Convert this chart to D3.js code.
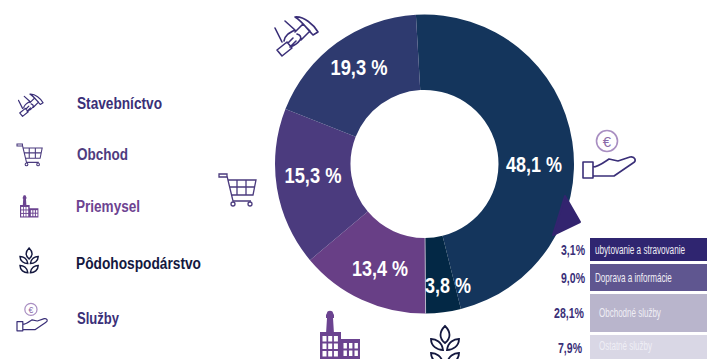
<!DOCTYPE html>
<html>
<head>
<meta charset="utf-8">
<script src="https://d3js.org/d3.v7.min.js"></script>
<style>
html, body { margin: 0; padding: 0; background: #fff; overflow: hidden; }
text { font-family: "Liberation Sans", sans-serif; }
</style>
</head>
<body>
<div id="chart"></div>
<script>
// data
const sectors = ["Služby", "Pôdohospodárstvo", "Priemysel", "Obchod", "Stavebníctvo"];
const sectorLabels = ["48,1 %", "3,8 %", "13,4 %", "15,3 %", "19,3 %"];
// the drawn slices are not quite what the labels say, so these are measured off the ring
const sliceShares = [47.0, 3.8, 14.0, 17.1, 18.1];
const sectorColors = ["#14355c", "#032845", "#683f86", "#4b3b7e", "#2e3a6f"];

const legendNames = ["Stavebníctvo", "Obchod", "Priemysel", "Pôdohospodárstvo", "Služby"];
const legendColors = ["#3a2f78", "#4f3c80", "#6d4391", "#14183f", "#3a2f78"];

const serviceNames = ["ubytovanie a stravovanie", "Doprava a informácie", "Obchodné služby", "Ostatné služby"];
const serviceLabels = ["3,1%", "9,0%", "28,1%", "7,9%"];
const serviceValues = [3.1, 9.0, 28.1, 7.9];
const serviceColors = ["#2f2570", "#5f5690", "#b9b5cc", "#d9d7e5"];

const svgWidth = 707, svgHeight = 359;
const cx = 424.5, cy = 164, outerR = 149.5, innerR = 74;

const svg = d3.select("#chart").append("svg")
    .attr("width", svgWidth)
    .attr("height", svgHeight)
    .style("display", "block");

// ring
const pie = d3.pie().sort(null)
    .startAngle(-3.3 * Math.PI / 180)
    .endAngle((360 - 3.3) * Math.PI / 180);
const arc = d3.arc().innerRadius(innerR).outerRadius(outerR);
const arcs = pie(sliceShares);

const ring = svg.append("g").attr("transform", `translate(${cx},${cy})`);
ring.selectAll("path")
    .data(arcs)
    .enter().append("path")
    .attr("d", arc)
    .attr("fill", (d, i) => sectorColors[i]);

// thin light line between Priemysel and Pôdohospodárstvo
const seam = d3.pointRadial(arcs[2].startAngle, innerR);
const seamEnd = d3.pointRadial(arcs[2].startAngle, outerR);
ring.append("line")
    .attr("x1", seam[0]).attr("y1", seam[1])
    .attr("x2", seamEnd[0]).attr("y2", seamEnd[1])
    .attr("stroke", "#c9c6d6").attr("stroke-width", 0.8);

// no condensed face is installed, so the text is squeezed to the original widths
const labelSpots = [[109.5, 0], [23.5, 121], [-44.5, 104], [-111.5, 11], [-65.5, -97]];
const labelWidths = [56, 46, 56, 57, 57];
ring.selectAll("text")
    .data(arcs)
    .enter().append("text")
    .attr("x", (d, i) => labelSpots[i][0])
    .attr("y", (d, i) => labelSpots[i][1])
    .attr("dy", "0.36em")
    .attr("text-anchor", "middle")
    .attr("fill", "#fff")
    .attr("font-weight", "bold")
    .attr("font-size", 22)
    .attr("textLength", (d, i) => labelWidths[i])
    .attr("lengthAdjust", "spacingAndGlyphs")
    .text((d, i) => sectorLabels[i]);

// little pointer from the ring to the services breakdown
svg.append("path")
    .attr("d", "M565 196L580 222L553 235Z")
    .attr("fill", "#33246f")
    .attr("stroke", "#33246f")
    .attr("stroke-width", 2)
    .attr("stroke-linejoin", "round");

// services breakdown, rows are not proportional in the original
const yRow = d3.scaleLinear()
    .domain(d3.cumsum([0, ...serviceValues]))
    .range([238, 264, 294, 335, 362]);
const gap = 3;

const rows = svg.append("g").selectAll("g")
    .data(serviceValues)
    .enter().append("g");

const rowTop = i => yRow(d3.sum(serviceValues.slice(0, i)));
const rowBottom = i => yRow(d3.sum(serviceValues.slice(0, i + 1))) - gap;
const rowTextX = [595, 595, 599, 599];
const rowTextWidth = [90, 77, 62, 53];
const rowLabelEnd = [585, 585, 584, 582];
const rowLabelWidth = [24, 24, 30, 24];
const rowLabelShift = [0, 0, 0, 1];
const rowTextShift = [0, 0, 0, -1];

rows.append("rect")
    .attr("x", 590)
    .attr("y", (d, i) => rowTop(i))
    .attr("width", svgWidth - 590)
    .attr("height", (d, i) => rowBottom(i) - rowTop(i))
    .attr("fill", (d, i) => serviceColors[i]);

// squeezed with a transform so the long name stays inside the page
rows.append("text")
    .attr("dy", "0.36em")
    .attr("fill", "#efeef5")
    .attr("font-size", 12)
    .text((d, i) => serviceNames[i])
    .attr("transform", function (d, i) {
        const y = (rowTop(i) + rowBottom(i)) / 2 + rowTextShift[i];
        return `translate(${rowTextX[i]},${y}) scale(${rowTextWidth[i] / this.getComputedTextLength()},1)`;
    });

rows.append("text")
    .attr("x", (d, i) => rowLabelEnd[i] - rowLabelWidth[i])
    .attr("y", (d, i) => (rowTop(i) + rowBottom(i)) / 2 + rowLabelShift[i])
    .attr("dy", "0.36em")
    .attr("fill", "#3a2f78")
    .attr("font-weight", "bold")
    .attr("font-size", 14)
    .attr("textLength", (d, i) => rowLabelWidth[i])
    .attr("lengthAdjust", "spacingAndGlyphs")
    .text((d, i) => serviceLabels[i]);

// legend
const legendY = [103, 154, 206, 263, 318];
const legendWidths = [85, 51, 64, 125, 42];
svg.append("g").selectAll("text")
    .data(legendNames)
    .enter().append("text")
    .attr("x", (d, i) => i < 2 || i == 4 ? 77 : 76)
    .attr("y", (d, i) => legendY[i])
    .attr("dy", "0.36em")
    .attr("fill", (d, i) => legendColors[i])
    .attr("font-weight", "bold")
    .attr("font-size", 16)
    .attr("textLength", (d, i) => legendWidths[i])
    .attr("lengthAdjust", "spacingAndGlyphs")
    .text(d => d);

// icons
function drawCart(x, y, s) {
    const g = svg.append("g")
        .attr("transform", `translate(${x},${y}) scale(${s})`)
        .attr("fill", "none").attr("stroke", "#4b3b7e").attr("stroke-width", 1.3 / Math.sqrt(s));
    g.append("path").attr("d", "M0 0H8V3H0Z M8 2L14 27H32 M9 6H37L34 21H12 M18 6V21 M27 6V21 M11 13H36");
    g.append("circle").attr("cx", 14).attr("cy", 30).attr("r", 2);
    g.append("circle").attr("cx", 31).attr("cy", 30).attr("r", 2);
}

function drawHammer(x, y, s) {
    svg.append("path")
        .attr("transform", `translate(${x},${y}) scale(${s})`)
        .attr("fill", "none").attr("stroke", "#3a2f78").attr("stroke-width", 1.6 / Math.sqrt(s))
        .attr("stroke-linejoin", "round").attr("stroke-linecap", "round")
        .attr("d", "M3 35L13 27L18 33L8 41Z M1 13L8 27 M11 6L21 15 M16 32C22 30 24 28 26 25C28 22 26 20 23 19 M10 26C11 20 15 18 21 15 M21 17L29 9L36 16L27 25 M21 2C30 1 40 10 44 17L39 20C34 15 28 6 21 2Z M14 28L19 23 M17 31L22 26");
}

function drawFactory(x, y, s) {
    const g = svg.append("g").attr("transform", `translate(${x},${y}) scale(${s})`);
    g.append("path").attr("fill", "#6b4390")
        .attr("d", "M7 3C7 0 13 0 13 3L14 5V8H13L14 24H6L7 8H6V5Z M0 22H21V29H40V49H0Z");
    const windows = g.append("g").attr("fill", "#fff");
    d3.range(3).forEach(c => d3.range(3).forEach(r => {
        windows.append("rect").attr("x", 2.5 + c * 5.7).attr("y", 26 + r * 7.5).attr("width", 4).attr("height", 5.5);
    }));
    d3.range(3).forEach(c => d3.range(2).forEach(r => {
        windows.append("rect").attr("x", 23.5 + c * 5.5).attr("y", 33 + r * 7.5).attr("width", 3.4).attr("height", 5.5);
    }));
}

function drawWheat(x, y, s) {
    svg.append("path")
        .attr("transform", `translate(${x},${y}) scale(${s})`)
        .attr("fill", "none").attr("stroke", "#14183f").attr("stroke-width", 1.8 / Math.sqrt(s))
        .attr("d", "M14 0C20 6 20 12 14 17C8 12 8 6 14 0Z"
            + "M12 24C11 16 5 13 0 13C0 20 6 24 12 24Z M16 24C17 16 23 13 28 13C28 20 22 24 16 24Z"
            + "M12 38C11 30 5 27 0 27C0 34 6 38 12 38Z M16 38C17 30 23 27 28 27C28 34 22 38 16 38Z");
}

function drawHand(x, y, s) {
    const g = svg.append("g")
        .attr("transform", `translate(${x},${y}) scale(${s})`)
        .attr("fill", "none").attr("stroke-width", 1.6 / Math.sqrt(s));
    g.append("circle").attr("cx", 24).attr("cy", 11).attr("r", 10.5).attr("stroke", "#a98fc2");
    g.append("text").attr("x", 24).attr("y", 16.5).attr("text-anchor", "middle")
        .attr("fill", "#8a6aa8").attr("font-size", 15).text("€");
    g.append("path").attr("stroke", "#3a2f78").attr("stroke-linejoin", "round")
        .attr("d", "M0 32H10V48H0Z M10 37C15 37 20 33 26 29L35 31L47 27C52 26 54 31 50 33L31 46H10");
}

drawHammer(274, 15, 1);
drawCart(219, 174, 1);
drawFactory(320, 310, 1);
drawWheat(431, 326, 1);
drawHand(583, 130, 1);

drawHammer(18, 93, 0.57);
drawCart(17, 144, 0.68);
drawFactory(20, 195, 0.46);
drawWheat(20, 248, 0.65);
drawHand(17, 303, 0.58);
</script>
</body>
</html>
